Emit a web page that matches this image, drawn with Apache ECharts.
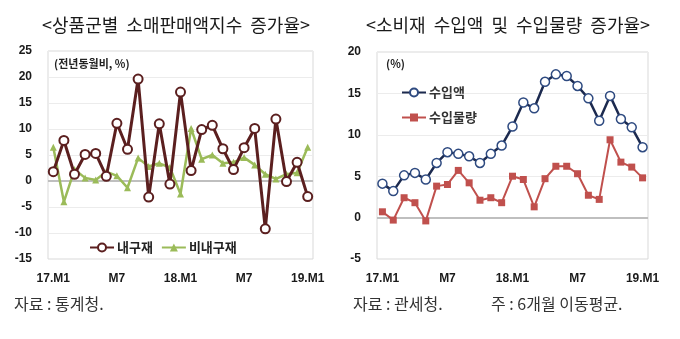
<!DOCTYPE html>
<html><head><meta charset="utf-8">
<script src="https://cdn.jsdelivr.net/npm/echarts@6/dist/echarts.min.js"></script>
<style>html,body{margin:0;padding:0;background:#fff}#c{width:680px;height:339px}</style>
</head><body><div id="c"></div>
<script>
const months = ['17.M1','17.M2','17.M3','17.M4','17.M5','17.M6','17.M7','17.M8','17.M9','17.M10','17.M11','17.M12',
 '18.M1','18.M2','18.M3','18.M4','18.M5','18.M6','18.M7','18.M8','18.M9','18.M10','18.M11','18.M12','19.M1'];
const durable =    [1.8,7.8,1.3,5.1,5.3,0.9,11.1,6.1,19.6,-3.1,11.0,-0.6,17.1,2.0,9.9,10.7,6.2,2.2,6.4,10.1,-9.2,11.9,-0.1,3.6,-3.0];
const nondurable = [6.5,-4.0,2.2,0.6,0.2,1.8,1.0,-1.3,4.4,2.8,3.4,2.6,-2.5,10.1,4.2,5.0,3.4,3.6,4.5,3.1,1.3,0.4,1.3,1.6,6.5];
const importValue =  [4.1,3.2,5.1,5.4,4.6,6.6,7.9,7.7,7.4,6.6,7.7,8.7,11.0,13.9,13.2,16.4,17.3,17.1,15.9,14.4,11.7,14.7,11.9,10.9,8.5];
const importVolume = [0.7,-0.3,2.4,1.8,-0.4,3.8,4.0,5.7,4.2,2.1,2.4,1.8,5.0,4.6,1.3,4.7,6.2,6.2,5.3,2.7,2.2,9.4,6.7,6.1,4.8];
const leftTicks = {min:-15,max:25,interval:5};
const rightTicks = {min:-5,max:20,interval:5};

const KR = '"Noto Sans CJK KR", sans-serif';
const NUM = '"Liberation Sans", Arial, sans-serif';
const chart = echarts.init(document.getElementById('c'), null, {renderer:'canvas'});

function xAx(gi){
  return {type:'category', gridIndex:gi, data:months, boundaryGap:true,
    axisLine:{show:false}, axisTick:{show:false},
    axisLabel:{interval:5, margin:14, color:'#1a1a1a', fontFamily:NUM, fontWeight:'bold', fontSize:12,
      formatter:v=> v.endsWith('.M1') ? v : v.split('.')[1]}};
}
function yAx(gi, t){
  return {type:'value', gridIndex:gi, min:t.min, max:t.max, interval:t.interval,
    axisLine:{show:false}, axisTick:{show:false},
    axisLabel:{margin:16, color:'#1a1a1a', fontFamily:NUM, fontWeight:'bold', fontSize:12},
    splitLine:{lineStyle:{color:'#ececec', width:1}}};
}
const zero = {silent:true, symbol:'none', z:1, label:{show:false}, lineStyle:{color:'#bfbfbf', width:2, type:'solid'}, data:[{yAxis:0}]};
const titleStyle = {fontFamily:KR, fontSize:18, fontWeight:'normal', color:'#1a1a1a'};
const srcStyle = {fontFamily:KR, fontSize:16, fontWeight:'normal', color:'#333'};

chart.setOption({
  animation:false,
  title:[
    {text:'<상품군별  소매판매액지수  증가율>', left:171, top:11, textAlign:'center', textStyle:titleStyle},
    {text:'<소비재  수입액  및  수입물량  증가율>', left:503, top:11, textAlign:'center', textStyle:titleStyle},
    {text:'(전년동월비, %)', left:49, top:53, textStyle:{fontFamily:KR, fontSize:11, fontWeight:'bold', color:'#222'}},
    {text:'(%)', left:381, top:53, textStyle:{fontFamily:KR, fontSize:11, fontWeight:'bold', color:'#222'}},
    {text:'자료 : 통계청.', left:9, top:291, textStyle:srcStyle},
    {text:'자료 : 관세청.', left:348, top:291, textStyle:srcStyle},
    {text:'주 : 6개월 이동평균.', left:486, top:291, textStyle:srcStyle}
  ],
  grid:[
    {left:48, top:51, width:265, height:208, show:true, borderColor:'#d9d9d9', borderWidth:1, backgroundColor:'#fff'},
    {left:377, top:52, width:271, height:207, show:true, borderColor:'#d9d9d9', borderWidth:1, backgroundColor:'#fff'}
  ],
  xAxis:[xAx(0), xAx(1)],
  yAxis:[yAx(0,leftTicks), yAx(1,rightTicks)],
  legend:[
    {data:['내구재','비내구재'], left:84, top:236, orient:'horizontal', itemWidth:24, itemHeight:10, itemGap:8,
     textStyle:{fontFamily:KR, fontSize:13, fontWeight:'bold', color:'#222', padding:[0,0,0,-2]}},
    {data:['수입액','수입물량'], left:396, top:81, orient:'vertical', itemWidth:24, itemHeight:10, itemGap:12,
     textStyle:{fontFamily:KR, fontSize:13, fontWeight:'bold', color:'#333', padding:[0,0,0,-2]}}
  ],
  series:[
    {name:'비내구재', type:'line', xAxisIndex:0, yAxisIndex:0, data:nondurable, z:3,
     symbol:'triangle', symbolSize:7, lineStyle:{color:'#9bbb59', width:2.5}, itemStyle:{color:'#9bbb59'}, markLine:zero},
    {name:'내구재', type:'line', xAxisIndex:0, yAxisIndex:0, data:durable, z:4,
     symbol:'circle', symbolSize:9, showAllSymbol:true, lineStyle:{color:'#5b1f1f', width:3},
     itemStyle:{color:'#fff', borderColor:'#5b1f1f', borderWidth:2}},
    {name:'수입액', type:'line', xAxisIndex:1, yAxisIndex:1, data:importValue, z:4,
     symbol:'circle', symbolSize:9, showAllSymbol:true, lineStyle:{color:'#1c2a4f', width:2.5},
     itemStyle:{color:'#fff', borderColor:'#2e4a80', borderWidth:1.5}, markLine:zero},
    {name:'수입물량', type:'line', xAxisIndex:1, yAxisIndex:1, data:importVolume, z:3,
     symbol:'rect', symbolSize:7, showAllSymbol:true, lineStyle:{color:'#c0504d', width:2}, itemStyle:{color:'#c0504d'}}
  ]
});
</script></body></html>
